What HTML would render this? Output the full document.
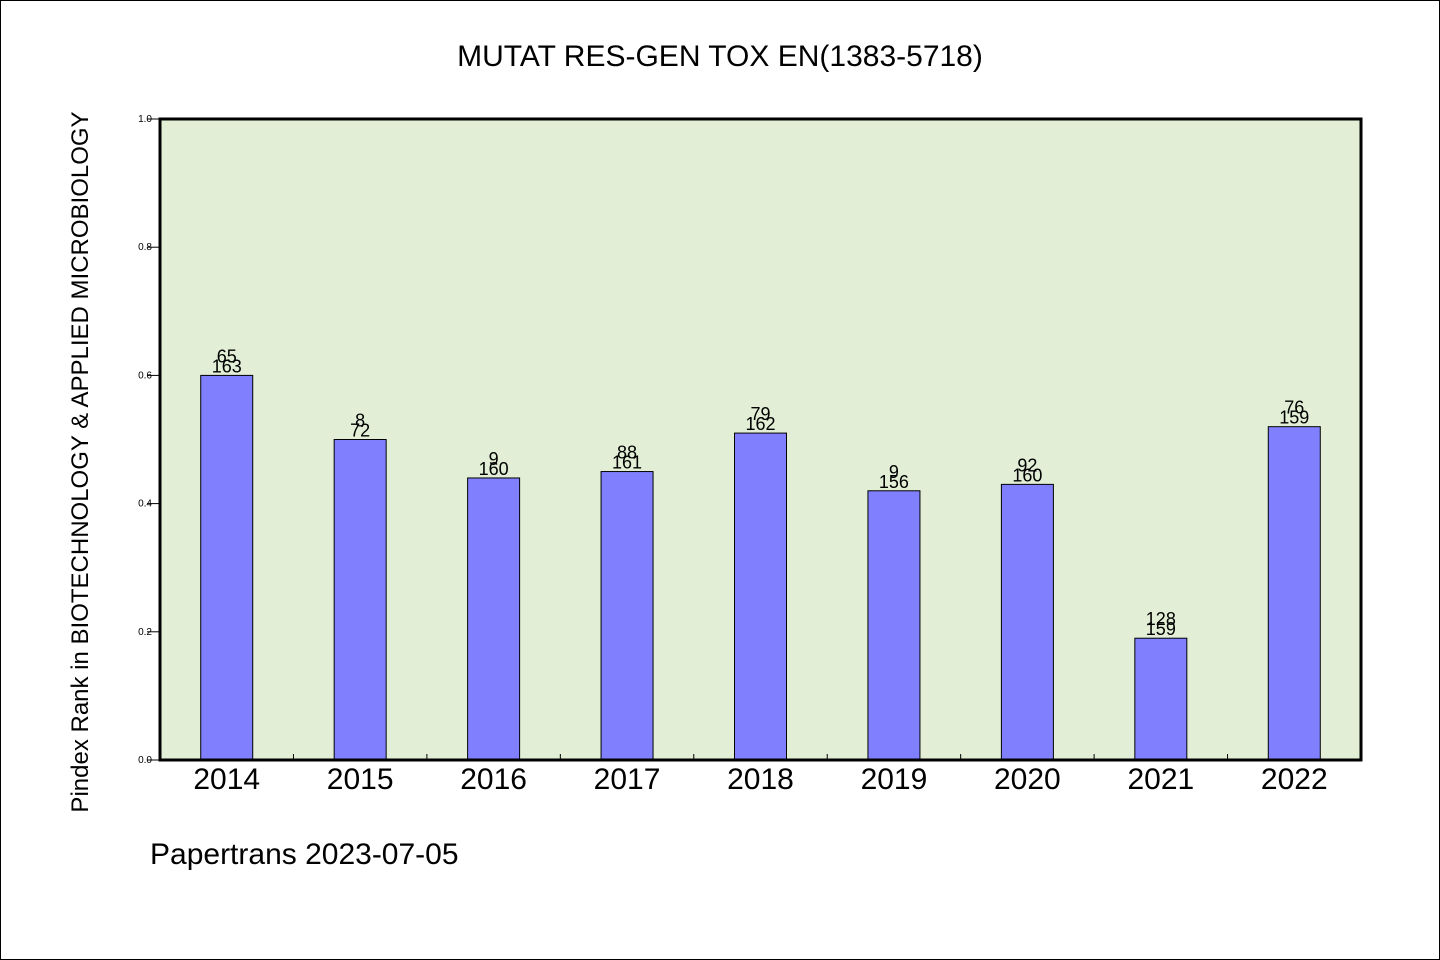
<!DOCTYPE html>
<html><head><meta charset="utf-8"><style>
html,body{margin:0;padding:0;background:#fff}
svg{display:block}
text{font-family:"WenQuanYi Zen Hei","Liberation Sans",sans-serif;fill:#000}
</style></head><body>
<svg id="chart" width="1440" height="960" viewBox="0 0 1440 960">
<rect x="0.5" y="0.5" width="1439" height="959" fill="#fff" stroke="#000"/>
<text x="720" y="66" font-size="30" text-anchor="middle">MUTAT RES-GEN TOX EN(1383-5718)</text>
<rect x="160" y="119" width="1201" height="641" fill="#e2efd6"/>
<g id="marks"></g>
<rect x="160" y="119" width="1201" height="641" fill="none" stroke="#000" stroke-width="3"/>
<text transform="translate(88,462) rotate(-90)" font-size="24" text-anchor="middle">Pindex Rank in BIOTECHNOLOGY &amp; APPLIED MICROBIOLOGY</text>
<text x="150" y="864" font-size="30">Papertrans 2023-07-05</text>
</svg>
<script>
const categories=["2014","2015","2016","2017","2018","2019","2020","2021","2022"];
const values=[0.60,0.50,0.44,0.45,0.51,0.42,0.43,0.19,0.52];
const topLabels=["65","8","9","88","79","9","92","128","76"];
const bottomLabels=["163","72","160","161","162","156","160","159","159"];
const yTicks=[0,0.2,0.4,0.6,0.8,1.0];
const X0=160,X1=1361,Y0=760,Y1=119;
const slot=(X1-X0)/categories.length;
const xScale=i=>X0+slot*(i+0.5);
const yScale=v=>Y0-(Y0-Y1)*v;
const g=document.getElementById('marks');
const NS='http://www.w3.org/2000/svg';
function mk(tag,attrs){const e=document.createElementNS(NS,tag);for(const k in attrs)e.setAttribute(k,attrs[k]);g.appendChild(e);return e;}
yTicks.forEach(t=>{
  const y=yScale(t);
  const l=mk('line',{x1:147,x2:160,y1:y,y2:y,stroke:'#000','stroke-width':1});
  
  
  const tx=mk('text',{x:152-0,y:y+3,'font-size':10,'text-anchor':'end'});
  tx.setAttribute('x',152);
  tx.textContent=t.toFixed(1);
  
  
});
for(let i=1;i<categories.length;i++){
  const x=X0+slot*i;
  const l=mk('line',{x1:x,x2:x,y1:Y0,y2:Y0-6,stroke:'#000','stroke-width':1});
  
  
}
const bw=52;
categories.forEach((c,i)=>{
  const cx=xScale(i),y=yScale(values[i]);
  const r=mk('rect',{x:cx-bw/2,y:y,width:bw,height:Y0-y,fill:'#8080ff',stroke:'#000','stroke-width':1});
  
  
  const t1=mk('text',{x:cx,y:y-13,'font-size':18,'text-anchor':'middle'});
  t1.textContent=topLabels[i];
  
  
  const t2=mk('text',{x:cx,y:y-3,'font-size':18,'text-anchor':'middle'});
  t2.textContent=bottomLabels[i];
  
  
  const xl=mk('text',{x:cx,y:789,'font-size':30,'text-anchor':'middle'});
  xl.textContent=c;
  
  
});
</script>
</body></html>
